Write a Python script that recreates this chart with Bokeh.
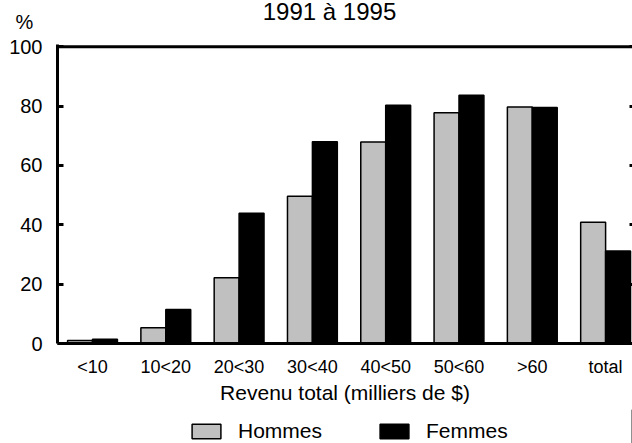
from bokeh.plotting import figure
from bokeh.layouts import column
from bokeh.models import (Range1d, LinearAxis, FixedTicker, Label, Legend,
                          LegendItem, ColumnDataSource, Span)
from bokeh.transform import dodge
from bokeh.embed import file_html
from bokeh.resources import INLINE

# ---- data ----
categories = ["<10", "10<20", "20<30", "30<40", "40<50", "50<60", ">60", "total"]
hommes = [1.0, 5.3, 22.2, 49.6, 67.9, 77.8, 79.7, 40.9]
femmes = [1.4, 11.5, 43.9, 68.0, 80.3, 83.7, 79.5, 31.2]
y_ticks = [0, 20, 40, 60, 80, 100]
title_text = "1991 à 1995"
x_label = "Revenu total (milliers de $)"
y_unit = "%"
series_names = ["Hommes", "Femmes"]
colors = ["#c0c0c0", "black"]

FONT = "Liberation Sans"
W = 632
pos = list(range(len(categories)))
src = ColumnDataSource(dict(pos=pos, cat=categories, hommes=hommes, femmes=femmes))


def blank(height, keep_title=True):
    kw = {} if keep_title else {"title": None}
    f = figure(width=W, height=height, output_backend="svg", toolbar_location=None,
               x_range=Range1d(0, 1), y_range=Range1d(0, 1),
               x_axis_location=None, y_axis_location=None,
               min_border=0, min_border_left=0, min_border_right=0,
               min_border_top=0, min_border_bottom=0,
               outline_line_color=None, frame_align=False, **kw)
    f.grid.visible = False
    return f


# ---- top strip: title and unit ----
top = blank(34, keep_title=False)
top.add_layout(Label(x=329, y=23, x_units="screen", y_units="screen",
                     text=title_text, text_align="center",
                     text_baseline="alphabetic", text_font=FONT,
                     text_font_size="24px", text_color="black"))
top.add_layout(Label(x=24, y=13, x_units="screen", y_units="screen",
                     text=y_unit, text_align="center",
                     text_baseline="alphabetic", text_font=FONT,
                     text_font_size="20px", text_color="black"))

# ---- main chart ----
p = figure(width=W, height=375, output_backend="svg", toolbar_location=None,
           x_range=Range1d(-0.4775, 7.367), y_range=Range1d(0, 100.77),
           min_border_left=57, min_border_right=0, min_border_top=10,
           min_border_bottom=66, background_fill_color="white",
           border_fill_color="white", outline_line_color=None,
           frame_align=False)
p.grid.visible = False

ya = p.yaxis[0]
ya.ticker = FixedTicker(ticks=y_ticks)
ya.axis_line_width = 3
ya.axis_line_color = "black"
ya.major_tick_line_width = 3
ya.major_tick_line_color = "black"
ya.major_tick_in = 6
ya.major_tick_out = 0
ya.minor_tick_line_color = None
ya.major_label_text_font = FONT
ya.major_label_text_font_size = "20px"
ya.major_label_text_color = "black"
ya.major_label_standoff = 15

xa = p.xaxis[0]
xa.ticker = FixedTicker(ticks=pos)
xa.major_label_overrides = {i: c for i, c in enumerate(categories)}
xa.axis_line_width = 3
xa.axis_line_color = "black"
xa.major_tick_line_color = None
xa.major_tick_in = 0
xa.major_tick_out = 0
xa.minor_tick_line_color = None
xa.major_label_text_font = FONT
xa.major_label_text_font_size = "18px"
xa.major_label_text_color = "black"
xa.major_label_standoff = 13
xa.axis_label = x_label
xa.axis_label_text_font = FONT
xa.axis_label_text_font_size = "21px"
xa.axis_label_text_font_style = "normal"
xa.axis_label_text_color = "black"
xa.axis_label_standoff = 1

ra = LinearAxis(ticker=FixedTicker(ticks=y_ticks), axis_line_color=None,
                major_tick_in=3, major_tick_out=0, major_tick_line_width=3,
                major_tick_line_color="black", minor_tick_line_color=None,
                major_label_overrides={t: "" for t in y_ticks},
                major_label_standoff=0)
p.add_layout(ra, "right")

p.add_layout(Span(location=100, dimension="width", line_color="black",
                  line_width=3))

p.vbar(x=dodge("pos", -0.17), top="hommes", width=0.34, source=src,
       fill_color=colors[0], line_color="black", line_width=1.5)
p.vbar(x=dodge("pos", 0.17), top="femmes", width=0.34, source=src,
       fill_color=colors[1], line_color="black", line_width=1.5)

# ---- legend strip (swatch renderers sit outside the visible range) ----
leg = blank(34)
swatches = [leg.vbar(x=[5], top=[1], width=0.3, fill_color=c, line_color="black",
                     line_width=1.5) for c in colors]
legend = Legend(items=[LegendItem(label=n, renderers=[r])
                       for n, r in zip(series_names, swatches)],
                orientation="horizontal", location=(188, 0),
                glyph_width=36, glyph_height=18, label_standoff=14, spacing=54,
                label_text_font=FONT, label_text_font_size="21px",
                label_text_color="black", border_line_color=None,
                background_fill_alpha=0, padding=0, margin=0)
leg.add_layout(legend, "center")

layout = column(top, p, leg, spacing=0)
open("out.html", "w").write(file_html(layout, INLINE))
